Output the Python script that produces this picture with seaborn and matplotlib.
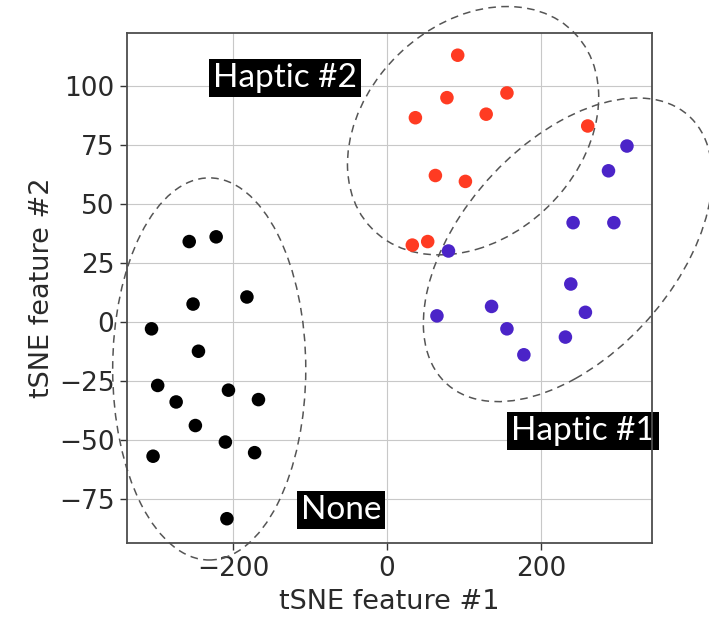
import numpy as np
import pandas as pd
import matplotlib
matplotlib.use("Agg")
import matplotlib.pyplot as plt
from matplotlib.patches import Ellipse
import seaborn as sns

# --- data (t-SNE embedding, 3 groups) ---
none_x = [-257, -222, -252, -182, -306, -245, -298, -274, -206, -167, -249, -210, -172, -304, -208]
none_y = [34, 36, 7.5, 10.5, -3, -12.5, -27, -34, -29, -33, -44, -51, -55.5, -57, -83.5]

haptic2_x = [92, 78, 156, 37, 129, 261, 63, 102, 33, 53]
haptic2_y = [113, 95, 97, 86.5, 88, 83, 62, 59.5, 32.5, 34]

haptic1_x = [312, 288, 242, 295, 80, 239, 136, 258, 65, 156, 232, 178]
haptic1_y = [74.5, 64, 42, 42, 30, 16, 6.5, 4, 2.5, -3, -6.5, -14]

group_names = ["None", "Haptic #2", "Haptic #1"]
group_colors = ["#000000", "#ff3b22", "#4b24c8"]

# ellipse outlines: (cx, cy, width, height, angle)
ellipses = {
    "None": (-231, -20, 251, 162, 0),
    "Haptic #2": (112, 81, 328, 101, 5.5),
    "Haptic #1": (235, 30.5, 381, 111, 10.3),
}
# label boxes: (x, y)
label_pos = {
    "None": (-60, -80),
    "Haptic #2": (-133, 103.3),
    "Haptic #1": (255, -46.5),
}

df = pd.DataFrame({
    "x": none_x + haptic2_x + haptic1_x,
    "y": none_y + haptic2_y + haptic1_y,
    "group": ["None"] * len(none_x) + ["Haptic #2"] * len(haptic2_x) + ["Haptic #1"] * len(haptic1_x),
})

sns.set_style("whitegrid", {
    "axes.edgecolor": "#4d4d4d",
    "grid.color": "#c8c8c8",
    "xtick.bottom": True,
    "ytick.left": True,
})
plt.rcParams["font.family"] = "sans-serif"
plt.rcParams["font.sans-serif"] = ["DejaVu Sans"]

fig = plt.figure(figsize=(7.09, 6.19), dpi=100)
ax = fig.add_axes([0.179, 0.122, 0.740, 0.825])

sns.scatterplot(data=df, x="x", y="y", hue="group", hue_order=group_names,
                palette=group_colors, s=95, edgecolor="none", legend=False, ax=ax, zorder=3)

for name, (cx, cy, w, h, ang) in ellipses.items():
    e = Ellipse((cx, cy), w, h, angle=ang, fill=False, edgecolor="#555555",
                linestyle=(0, (5, 3.5)), linewidth=1.1, clip_on=False, zorder=2)
    ax.add_patch(e)

for name, (tx, ty) in label_pos.items():
    ax.text(tx, ty, name, ha="center", va="center", color="white", fontsize=24,
            fontfamily="Lato", clip_on=False, zorder=4,
            bbox=dict(boxstyle="square,pad=0.12", facecolor="black", edgecolor="none"))

ax.set_xlim(-338, 344)
ax.set_ylim(-94, 122.5)
ax.set_xticks([-200, 0, 200])
ax.set_yticks([-75, -50, -25, 0, 25, 50, 75, 100])
ax.tick_params(axis="both", labelsize=19, colors="#333333", length=5, width=1, pad=4)
ax.tick_params(axis="both", labelcolor="#2a2a2a")
ax.set_xlabel("tSNE feature #1", fontsize=19.5, color="#2a2a2a", labelpad=5)
ax.set_ylabel("tSNE feature #2", fontsize=19.5, color="#2a2a2a", labelpad=3)
for sp in ax.spines.values():
    sp.set_linewidth(1.3)
    sp.set_zorder(5)

fig.savefig("out.png", dpi=100)
